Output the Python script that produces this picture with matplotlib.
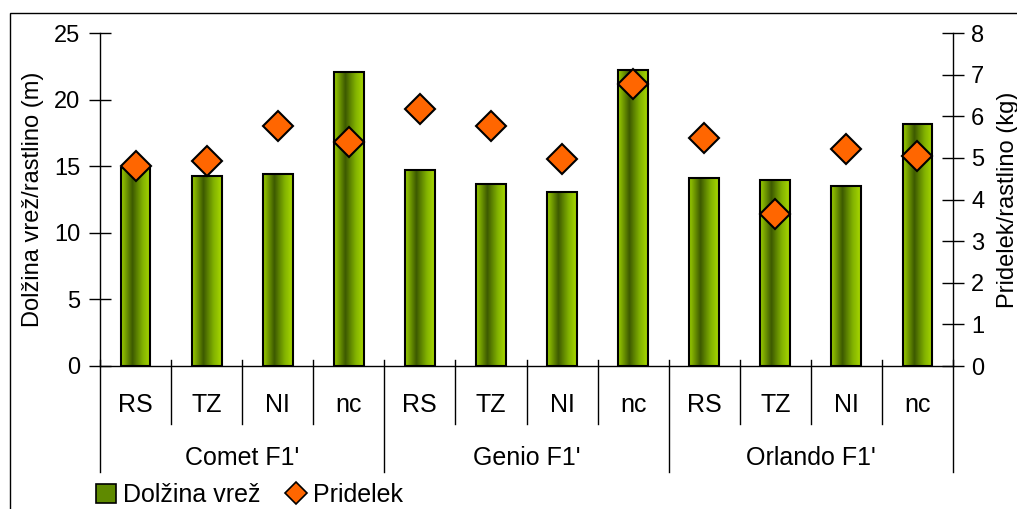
import numpy as np
import matplotlib
matplotlib.use("Agg")
import matplotlib.pyplot as plt
from matplotlib.colors import LinearSegmentedColormap
from matplotlib.patches import Rectangle
from matplotlib.lines import Line2D

plt.rcParams['font.family'] = ['Liberation Sans', 'DejaVu Sans']

# data
groups = ["Comet F1'", "Genio F1'", "Orlando F1'"]
treatments = ["RS", "TZ", "NI", "nc"]
length_m = [14.86, 14.26, 14.41, 22.07,
            14.71, 13.66, 13.06, 22.22,
            14.11, 13.96, 13.51, 18.17]
yield_kg = [4.81, 4.93, 5.77, 5.38,
            6.18, 5.77, 4.98, 6.78,
            5.48, 3.65, 5.22, 5.05]

FS = 17
FS_CAT = 18
green_cmap = LinearSegmentedColormap.from_list(
    "bar", [(0.0, "#9acd00"), (0.38, "#3d5a00"), (0.72, "#80b000"), (1.0, "#a8d800")])
gradient = np.linspace(0, 1, 64).reshape(1, -1)

fig = plt.figure(figsize=(10.17, 5.09), dpi=100)
ax = fig.add_axes([100/1017, 1-366/509, 853/1017, 333/509])
ax2 = ax.twinx()

x = np.arange(len(length_m))
bars = ax.bar(x, length_m, width=0.42, color="none", edgecolor="black",
              linewidth=1.5, zorder=3)
for b in bars:
    x0, y0 = b.get_x(), b.get_y()
    im = ax.imshow(gradient, cmap=green_cmap, aspect="auto", zorder=2,
                   extent=[x0, x0 + b.get_width(), y0, y0 + b.get_height()])
    im.set_clip_path(b)

ax2.plot(x, yield_kg, linestyle="none", marker="D", markersize=15,
         markerfacecolor="#ff6600", markeredgecolor="black",
         markeredgewidth=1.5, zorder=4)

ax.set_xlim(-0.5, len(length_m) - 0.5)
ax.set_ylim(0, 25)
ax.set_yticks(range(0, 26, 5))
ax2.set_ylim(0, 8)
ax2.set_yticks(range(0, 9))

for a in (ax, ax2):
    a.spines["top"].set_visible(False)
    for s in a.spines.values():
        s.set_linewidth(1.0)
ax2.spines["bottom"].set_visible(False)
ax.spines["right"].set_visible(False)
ax2.spines["left"].set_visible(False)

ax.tick_params(axis="y", direction="inout", length=16, width=1.0,
               labelsize=FS, pad=6)
ax2.tick_params(axis="y", direction="inout", length=16, width=1.0,
                labelsize=FS, pad=5)
ax.set_xticks([])

ax.set_ylabel("Dolžina vrež/rastlino (m)", fontsize=FS)
ax2.set_ylabel("Pridelek/rastlino (kg)", fontsize=FS)
ax.yaxis.set_label_coords(-0.079, 0.5)
ax2.yaxis.set_label_coords(1.064, 0.5)
ax.yaxis.label.set_va("center")
ax2.yaxis.label.set_va("center")

# two-level category axis
n_t = len(treatments)
for i in range(len(length_m)):
    ax.text(i, -0.117, treatments[i % n_t], transform=ax.get_xaxis_transform(),
            ha="center", va="center", fontsize=FS_CAT)
for g, name in enumerate(groups):
    ax.text(g * n_t + (n_t - 1) / 2, -0.276, name,
            transform=ax.get_xaxis_transform(),
            ha="center", va="center", fontsize=FS_CAT)
for k in range(len(length_m) + 1):
    bottom = -0.318 if k % n_t == 0 else -0.174
    ax.add_line(Line2D([k - 0.5, k - 0.5], [0.018, bottom],
                       transform=ax.get_xaxis_transform(), color="black",
                       linewidth=1.0, clip_on=False))

# legend
handles = [Rectangle((0, 0), 1, 1, facecolor="#5f8a00", edgecolor="black", linewidth=1.2),
           Line2D([], [], linestyle="none", marker="D", markersize=11,
                  markerfacecolor="#ff6600", markeredgecolor="black", markeredgewidth=1.2)]
fig.legend(handles, ["Dolžina vrež", "Pridelek"], loc="lower left",
           bbox_to_anchor=(0.072, -0.04), ncol=2, frameon=False, fontsize=FS_CAT,
           handlelength=0.8, handleheight=0.8, handletextpad=0.3, columnspacing=1.0)

# outer frame (clipped at right and bottom in reference)
fig.add_artist(Rectangle((10/1017, -0.1), 1.2, 1 - 13/509 + 0.1,
                         transform=fig.transFigure, fill=False,
                         edgecolor="black", linewidth=1.0))

fig.savefig("out.png", dpi=100)
